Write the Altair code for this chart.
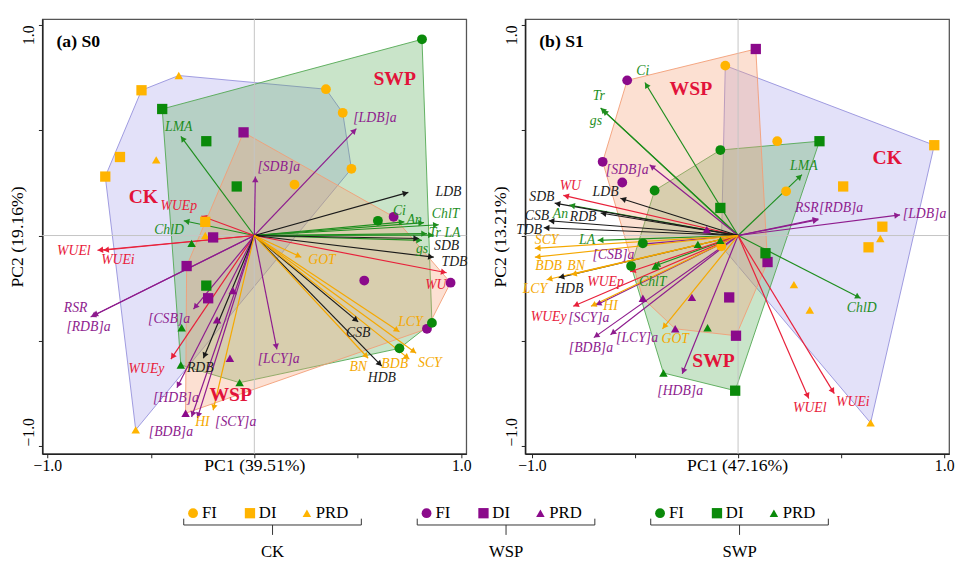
import math
import altair as alt
import pandas as pd

FONT = "Liberation Serif"

# ---------------- loadings (variables) ----------------
variables = ["LMA", "ChlD", "Ci", "An", "ChlT", "Tr", "LA", "gs",
             "WUEl", "WUEi", "WUEp", "WUEy", "WU",
             "RSR", "[RDB]a", "[CSB]a", "[HDB]a", "[BDB]a", "[SCY]a", "[LCY]a", "[SDB]a", "[LDB]a",
             "LDB", "SDB", "TDB", "CSB", "HDB", "RDB",
             "GOT", "LCY", "SCY", "BDB", "BN", "HI"]
var_kind = (["photo"] * 8 + ["water"] * 5 + ["alloc"] * 9 + ["biomass"] * 6 + ["yield"] * 6)

# panel (a) S0
a_load_x = [-0.355, -0.341, 0.725, 0.820, 0.891, 0.834, 0.867, 0.810,
            -0.758, -0.730, -0.256, -0.403, 0.929,
            -0.791, -0.782, -0.294, -0.374, -0.303, -0.275, 0.109, 0.005, 0.493,
            0.744, 0.796, 0.867, 0.502, 0.616, -0.246,
            0.227, 0.701, 0.782, 0.749, 0.550, -0.199]
a_load_y = [0.471, 0.070, 0.065, 0.061, 0.051, 0.009, 0.002, -0.023,
            -0.070, -0.070, 0.093, -0.587, -0.177,
            -0.387, -0.382, -0.350, -0.723, -0.862, -0.867, -0.541, 0.280, 0.508,
            0.205, -0.014, -0.103, -0.410, -0.620, -0.583,
            -0.103, -0.457, -0.559, -0.587, -0.583, -0.830]
a_lab_x = [-0.365, -0.412, 0.701, 0.773, 0.924, 0.872, 0.957, 0.810,
           -0.872, -0.659, -0.365, -0.521, 0.877,
           -0.863, -0.801, -0.412, -0.379, -0.403, -0.090, 0.118, 0.118, 0.583,
           0.938, 0.929, 0.967, 0.502, 0.616, -0.261,
           0.327, 0.754, 0.848, 0.678, 0.502, -0.251]
a_lab_y = [0.517, 0.028, 0.117, 0.075, 0.103, 0.010, 0.012, -0.066,
           -0.075, -0.117, 0.140, -0.634, -0.233,
           -0.345, -0.434, -0.396, -0.774, -0.932, -0.886, -0.587, 0.326, 0.559,
           0.205, -0.052, -0.124, -0.462, -0.676, -0.629,
           -0.117, -0.410, -0.606, -0.611, -0.625, -0.886]

# panel (b) S1
b_load_x = [0.310, 0.595, -0.452, -0.819, -0.405, -0.667, -0.681, -0.657,
            0.343, 0.467, -0.524, -0.800, -0.848,
            0.390, 0.390, -0.476, -0.271, -0.700, -0.690, -0.619, -0.429, 0.786,
            -0.571, -0.890, -0.943, -0.919, -0.871, -0.667,
            -0.367, -0.929, -0.986, -0.986, -0.810, -0.714]
b_load_y = [0.289, -0.298, 0.727, 0.145, -0.145, 0.606, -0.023, 0.597,
            -0.774, -0.751, -0.172, -0.336, 0.191,
            0.075, 0.079, -0.042, -0.657, -0.485, -0.331, -0.471, 0.336, 0.098,
            0.177, 0.154, 0.037, 0.070, -0.200, 0.107,
            -0.443, -0.210, -0.061, -0.103, -0.186, -0.336]
b_lab_x = [0.319, 0.600, -0.462, -0.862, -0.414, -0.676, -0.733, -0.690,
           0.348, 0.557, -0.643, -0.919, -0.814,
           0.333, 0.500, -0.605, -0.281, -0.714, -0.724, -0.490, -0.538, 0.905,
           -0.643, -0.952, -1.014, -0.976, -0.819, -0.752,
           -0.305, -0.986, -0.929, -0.919, -0.786, -0.619]
b_lab_y = [0.331, -0.345, 0.779, 0.103, -0.219, 0.662, -0.023, 0.545,
           -0.821, -0.793, -0.219, -0.387, 0.233,
           0.131, 0.131, -0.093, -0.737, -0.536, -0.392, -0.485, 0.312, 0.103,
           0.205, 0.182, 0.028, 0.093, -0.252, 0.089,
           -0.490, -0.256, -0.023, -0.145, -0.145, -0.336]

# ---------------- scores (observations) ----------------
a_pt_group = ["CK"] * 12 + ["WSP"] * 12 + ["SWP"] * 12
a_pt_level = ["PRD", "DI", "DI", "PRD", "DI", "DI", "PRD", "FI", "FI", "FI", "FI", "PRD",
              "DI", "DI", "DI", "DI", "PRD", "PRD", "PRD", "PRD", "FI", "FI", "FI", "FI",
              "FI", "DI", "DI", "DI", "DI", "PRD", "PRD", "PRD", "PRD", "FI", "FI", "FI"]
a_pt_x = [-0.365, -0.545, -0.649, -0.474, -0.720, -0.237, -0.237, 0.346, 0.427, 0.469, 0.194, -0.573,
          -0.052, -0.199, -0.327, -0.223, -0.104, -0.180, -0.118, -0.332, 0.673, 0.531, 0.948, 0.834,
          0.810, -0.445, -0.232, -0.085, -0.232, -0.303, -0.351, -0.355, -0.071, 0.597, 0.858, 0.701]
a_pt_y = [0.760, 0.690, 0.373, 0.359, 0.280, 0.065, 0.000, 0.695, 0.583, 0.317, 0.242, -0.923,
          0.490, -0.009, -0.145, -0.298, -0.261, -0.401, -0.583, -0.844, 0.089, -0.214, -0.224, -0.443,
          0.932, 0.601, 0.448, 0.233, -0.238, -0.037, -0.438, -0.615, -0.699, 0.070, -0.415, -0.536]

b_pt_group = ["CK"] * 12 + ["WSP"] * 11 + ["SWP"] * 13
b_pt_level = ["FI", "FI", "FI", "FI", "DI", "DI", "DI", "DI", "PRD", "PRD", "PRD", "PRD",
              "DI", "FI", "FI", "FI", "DI", "DI", "DI", "PRD", "PRD", "PRD", "PRD",
              "DI", "DI", "DI", "DI", "FI", "FI", "FI", "FI", "PRD", "PRD", "PRD", "PRD", "PRD"]
b_pt_x = [-0.062, 0.190, 0.233, -0.081, 0.952, 0.510, 0.700, 0.633, 0.690, 0.271, 0.348, 0.643,
          0.086, -0.538, -0.657, -0.562, 0.143, -0.043, -0.010, -0.152, -0.462, -0.224, -0.305,
          0.395, -0.086, 0.133, -0.014, -0.086, -0.405, -0.462, -0.519, -0.086, -0.195, -0.400, -0.148, -0.362]
b_pt_y = [0.807, 0.448, 0.210, -0.051, 0.429, 0.233, 0.042, -0.056, -0.014, -0.233, -0.354, -0.890,
          0.886, 0.737, 0.350, 0.252, -0.126, -0.294, -0.476, 0.028, -0.298, -0.294, -0.443,
          0.448, 0.131, -0.084, -0.737, 0.406, 0.214, -0.037, -0.145, -0.023, -0.042, -0.145, -0.438, -0.653]

# group name annotations (CK, WSP, SWP)
group_names = ["CK", "WSP", "SWP"]
a_gname_x = [-0.536, -0.114, 0.678]
a_gname_y = [0.182, -0.760, 0.741]
b_gname_x = [0.724, -0.229, -0.119]
b_gname_y = [0.368, 0.695, -0.597]

levels = ["FI", "DI", "PRD"]

# ---------------- styles ----------------
KIND_COLOR = {"photo": "#1e8e1e", "water": "#e8203a", "alloc": "#8e1c8e",
              "biomass": "#1a1a1a", "yield": "#f5a800"}
GROUP_COLOR = {"CK": "#FFB400", "WSP": "#8B0A8B", "SWP": "#0A8A0A"}
HULL_FILL = {"CK": "#a9a4ec", "WSP": "#f5a276", "SWP": "#5aae5a"}
HULL_STROKE = {"CK": "#9590dc", "WSP": "#f29e76", "SWP": "#52a852"}
HULL_ORDER = ["CK", "SWP", "WSP"]
SHAPE = {"FI": "circle", "DI": "square", "PRD": "triangle-up"}
SIZE = {"FI": 100, "DI": 110, "PRD": 75}
NAME_RED = "#E2133A"

W, H = 432, 443


def convex_hull(pts):
    pts = sorted(set(pts))
    if len(pts) <= 2:
        return pts

    def cross(o, a, b):
        return (a[0] - o[0]) * (b[1] - o[1]) - (a[1] - o[1]) * (b[0] - o[0])

    lower, upper = [], []
    for p in pts:
        while len(lower) >= 2 and cross(lower[-2], lower[-1], p) <= 0:
            lower.pop()
        lower.append(p)
    for p in reversed(pts):
        while len(upper) >= 2 and cross(upper[-2], upper[-1], p) <= 0:
            upper.pop()
        upper.append(p)
    return lower[:-1] + upper[:-1]


def make_panel(tag, lx, ly, labx, laby, pg, plev, ppx, ppy, gnx, gny,
               xdom, ydom, xtitle, ytitle, with_legend):
    sx = W / (xdom[1] - xdom[0])
    sy = H / (ydom[1] - ydom[0])
    xs = alt.Scale(domain=xdom, nice=False, zero=False)
    ys = alt.Scale(domain=ydom, nice=False, zero=False)
    lab_expr = "abs(datum.value) > 0.99 ? format(datum.value, '.1f') : ''"
    xaxis = alt.Axis(values=[-1, -0.5, 0, 0.5, 1], labelExpr=lab_expr, labelFlush=True,
                     labelOverlap=False, grid=False, tickSize=4, tickColor="#222",
                     domainColor="#222", domainWidth=1.5, labelFont=FONT, labelFontSize=16,
                     labelColor="black", labelPadding=0, title=xtitle, titleFont=FONT,
                     titleFontSize=18, titleFontWeight="normal", titleColor="black",
                     titleY=12, titleBaseline="middle")
    yaxis = alt.Axis(values=[-1, -0.5, 0, 0.5, 1], labelExpr=lab_expr, labelOverlap=False,
                     grid=False, tickSize=4, tickColor="#222", domainColor="#222",
                     domainWidth=1.5, labelFont=FONT, labelFontSize=16, labelColor="black",
                     labelAngle=270, labelBaseline="bottom", labelPadding=2,
                     labelAlign={"condition": {"test": "datum.value < 0", "value": "left"},
                                 "value": "right"},
                     title=ytitle, titleFont=FONT, titleFontSize=18, titleFontWeight="normal",
                     titleColor="black", titleX=-25, titleAngle=270, titleBaseline="middle")

    def X(f):
        return alt.X(f, type="quantitative", scale=xs, axis=xaxis)

    def Y(f):
        return alt.Y(f, type="quantitative", scale=ys, axis=yaxis)

    layers = []

    # hulls
    for g in HULL_ORDER:
        pts = [(x, y) for gg, x, y in zip(pg, ppx, ppy) if gg == g]
        hull = convex_hull(pts)
        hdf = pd.DataFrame({"k": list(range(len(hull))),
                            "hx": [p[0] for p in hull], "hy": [p[1] for p in hull],
                            "fc": HULL_FILL[g], "sc": HULL_STROKE[g]})
        layers.append(
            alt.Chart(hdf).mark_line(interpolate="linear-closed", strokeWidth=1)
            .encode(x=X("hx"), y=Y("hy"), order=alt.Order("k:Q"),
                    fill=alt.Fill("fc:N", scale=None),
                    stroke=alt.Stroke("sc:N", scale=None),
                    fillOpacity=alt.value(0.33), strokeOpacity=alt.value(0.9))
        )

    # zero lines
    zdf = pd.DataFrame({"z": [0.0]})
    layers.append(alt.Chart(zdf).mark_rule(color="#c4c4c4", strokeWidth=1).encode(x=X("z")))
    layers.append(alt.Chart(zdf).mark_rule(color="#c4c4c4", strokeWidth=1).encode(y=Y("z")))

    # arrows
    rows = []
    for v, k, x, y, tx, ty in zip(variables, var_kind, lx, ly, labx, laby):
        dxp, dyp = x * sx, y * sy
        L = math.hypot(dxp, dyp)
        ang = math.degrees(math.atan2(dxp, dyp)) % 360
        back = 3.0
        rows.append({"var": v, "clr": KIND_COLOR[k], "x0": 0.0, "y0": 0.0, "x": x, "y": y,
                     "hx": x - back * dxp / L / sx, "hy": y - back * dyp / L / sy,
                     "ang": ang, "lx": tx, "ly": ty})
    adf = pd.DataFrame(rows)
    layers.append(
        alt.Chart(adf).mark_rule(strokeWidth=1.2)
        .encode(x=X("x0"), y=Y("y0"), x2=alt.X2("x"), y2=alt.Y2("y"),
                color=alt.Color("clr:N", scale=None))
    )
    layers.append(
        alt.Chart(adf).mark_point(shape="triangle-up", filled=True, size=42, opacity=1)
        .encode(x=X("hx"), y=Y("hy"), angle=alt.Angle("ang:Q", scale=None),
                color=alt.Color("clr:N", scale=None))
    )

    # points
    pdf = pd.DataFrame({"g": pg, "lev": plev, "px": ppx, "py": ppy})
    pdf["clr"] = pdf["g"].map(GROUP_COLOR)
    pdf["shp"] = pdf["lev"].map(SHAPE)
    pdf["sz"] = pdf["lev"].map(SIZE)
    layers.append(
        alt.Chart(pdf).mark_point(filled=True, opacity=1, strokeWidth=0)
        .encode(x=X("px"), y=Y("py"), shape=alt.Shape("shp:N", scale=None),
                size=alt.Size("sz:Q", scale=None), color=alt.Color("clr:N", scale=None))
    )

    # variable labels
    layers.append(
        alt.Chart(adf).mark_text(font=FONT, fontStyle="italic", fontSize=14,
                                 align="center", baseline="middle")
        .encode(x=X("lx"), y=Y("ly"), text="var:N", color=alt.Color("clr:N", scale=None))
    )

    # group names
    gdf = pd.DataFrame({"name": group_names, "gx": gnx, "gy": gny})
    layers.append(
        alt.Chart(gdf).mark_text(font=FONT, fontWeight="bold", fontSize=20, color=NAME_RED,
                                 align="center", baseline="middle")
        .encode(x=X("gx"), y=Y("gy"), text="name:N")
    )

    # panel tag
    tdf = pd.DataFrame({"t": [tag], "tx": [xdom[0] + 0.068], "ty": [ydom[1] - 0.11]})
    layers.append(
        alt.Chart(tdf).mark_text(font=FONT, fontWeight="bold", fontSize=18, color="black",
                                 align="left", baseline="middle")
        .encode(x=X("tx"), y=Y("ty"), text="t:N")
    )

    if with_legend:
        # legend layout in PC1/PC2 units of this panel (below the plot)
        LEG_X0, LEG_GSTEP, LEG_ISTEP, LEG_TXT_DX = -0.296, 1.128, 0.275, 0.043
        LEG_Y_MARK, LEG_Y_BRTOP, LEG_Y_BR, LEG_Y_STEM, LEG_Y_LAB = -1.319, -1.345, -1.375, -1.422, -1.506
        BR_START, BR_END = -0.045, 0.813
        mrows, brows, nrows = [], [], []
        for gi, g in enumerate(group_names):
            base = LEG_X0 + gi * LEG_GSTEP
            for ii, lev in enumerate(levels):
                mx = base + ii * LEG_ISTEP
                mrows.append({"mx": mx, "my": LEG_Y_MARK, "tx": mx + LEG_TXT_DX, "lev": lev,
                              "clr": GROUP_COLOR[g], "shp": SHAPE[lev], "sz": SIZE[lev]})
            s, e = base + BR_START, base + BR_END
            c = (s + e) / 2
            brows += [
                {"bx": s, "by": LEG_Y_BR, "bx2": e, "by2": LEG_Y_BR},
                {"bx": s, "by": LEG_Y_BR, "bx2": s, "by2": LEG_Y_BRTOP},
                {"bx": e, "by": LEG_Y_BR, "bx2": e, "by2": LEG_Y_BRTOP},
                {"bx": c, "by": LEG_Y_BR, "bx2": c, "by2": LEG_Y_STEM},
            ]
            nrows.append({"nx": c, "ny": LEG_Y_LAB, "name": g})
        mdf, bdf, ndf = pd.DataFrame(mrows), pd.DataFrame(brows), pd.DataFrame(nrows)
        layers.append(
            alt.Chart(mdf).mark_point(filled=True, opacity=1, strokeWidth=0)
            .encode(x=X("mx"), y=Y("my"), shape=alt.Shape("shp:N", scale=None),
                    size=alt.Size("sz:Q", scale=None), color=alt.Color("clr:N", scale=None))
        )
        layers.append(
            alt.Chart(mdf).mark_text(font=FONT, fontSize=17, color="black", align="left",
                                     baseline="middle")
            .encode(x=X("tx"), y=Y("my"), text="lev:N")
        )
        layers.append(
            alt.Chart(bdf).mark_rule(color="#333", strokeWidth=1)
            .encode(x=X("bx"), y=Y("by"), x2=alt.X2("bx2"), y2=alt.Y2("by2"))
        )
        layers.append(
            alt.Chart(ndf).mark_text(font=FONT, fontSize=17, color="black", align="center",
                                     baseline="middle")
            .encode(x=X("nx"), y=Y("ny"), text="name:N")
        )

    return alt.layer(*layers).properties(width=W, height=H)


panel_a = make_panel("(a) S0", a_load_x, a_load_y, a_lab_x, a_lab_y,
                     a_pt_group, a_pt_level, a_pt_x, a_pt_y, a_gname_x, a_gname_y,
                     [-1.024, 1.024], [-1.037, 1.028], "PC1 (39.51%)", "PC2 (19.16%)", True)
panel_b = make_panel("(b) S1", b_load_x, b_load_y, b_lab_x, b_lab_y,
                     b_pt_group, b_pt_level, b_pt_x, b_pt_y, b_gname_x, b_gname_y,
                     [-1.033, 1.024], [-1.037, 1.028], "PC1 (47.16%)", "PC2 (13.21%)", False)

chart = (
    alt.hconcat(panel_a, panel_b, spacing=60, bounds="flush")
    .configure_view(stroke="#555", strokeWidth=1.3)
    .properties(padding={"left": 0, "top": 4, "right": 0, "bottom": 0})
)

chart.save("out.html", embed_options={"renderer": "svg", "actions": False})
